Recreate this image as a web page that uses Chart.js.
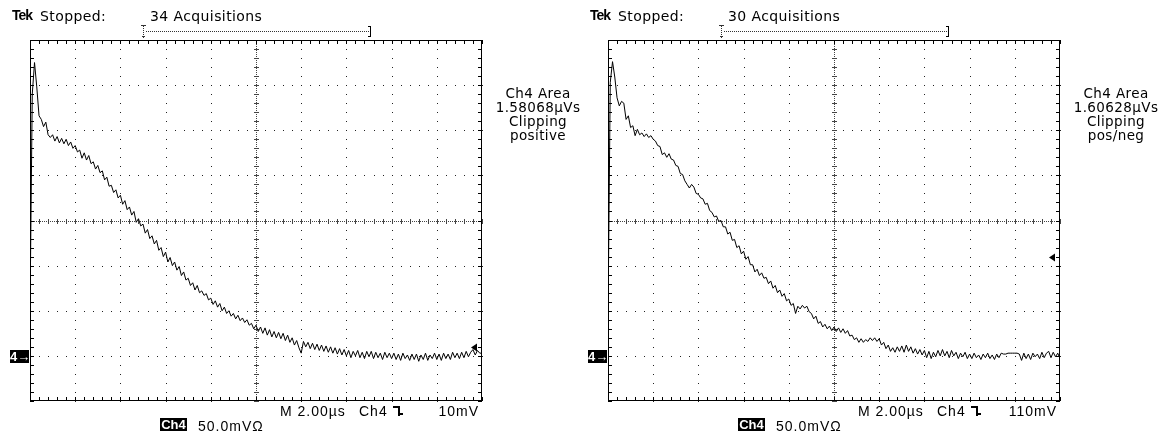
<!DOCTYPE html>
<html>
<head>
<meta charset="utf-8">
<script src="https://cdn.jsdelivr.net/npm/chart.js@4.4.1/dist/chart.umd.min.js"></script>
<style>
html, body { margin: 0; padding: 0; background: #fff; }
#wrap { position: relative; width: 1168px; height: 432px; overflow: hidden; color: #000; }
canvas { position: absolute; top: 0; }
.t { position: absolute; white-space: nowrap; line-height: 13px; font: 14px "DejaVu Sans", sans-serif; letter-spacing: 0.4px; }
.lib { font-family: "Liberation Sans", Arial, sans-serif; letter-spacing: 1px; }
.info { text-align: center; width: 130px; line-height: 14px; font-size: 13.5px; letter-spacing: 0.4px; }
.inv { background: #000; color: #fff; font: bold 13px "Liberation Sans", Arial, sans-serif; line-height: 13px; text-align: center; letter-spacing: 0; }
.tek { font-weight: bold; letter-spacing: -1px; font-family: "Liberation Sans", Arial, sans-serif; font-size: 14px; }
.edge { position: absolute; border-color: #000; border-style: solid; border-width: 0; }
</style>
</head>
<body>
<div id="wrap">
  <canvas id="scopeA" width="584" height="432" style="left:0"></canvas>
  <canvas id="scopeB" width="584" height="432" style="left:578px"></canvas>
</div>
<script>
// ─── SCOPE DATA ──────────────────────────────────────────────
const SAMPLE_US = 0.1;           // record spacing, µs
const TIME_SPAN = [0, 20];       // 10 div x 2.00 µs
const VOLT_SPAN = [-50, 350];    // 8 div x 50.0 mV, ground marker at 0
const acquisitions = [34, 30];
const areaReadings = ['1.58068µVs', '1.60628µVs'];
const clipModes    = ['positive', 'pos/neg'];
const triggerText  = ['10mV', '110mV'];
const triggerMv    = [10, 110];

// Ch4 in mV, one sample every 0.1 µs (one row per µs)
const traceA = [
    50, 290, 325, 298, 266, 262, 254, 259, 245, 242,
    245, 238, 243, 236, 241, 235, 240, 233, 237, 230,
    233, 226, 228, 219, 225, 217, 222, 213, 215, 207,
    211, 203, 205, 195, 198, 188, 189, 181, 184, 175,
    178, 168, 172, 162, 165, 156, 160, 148, 152, 144,
    146, 136, 140, 130, 133, 124, 128, 117, 120, 110,
    115, 104, 109, 100, 104, 95, 99, 89, 93, 84,
    86, 78, 81, 73, 78, 70, 72, 67, 69, 62,
    64, 57, 61, 54, 58, 50, 54, 47, 50, 44,
    47, 41, 45, 39, 42, 37, 40, 34, 36, 30,
    34, 27, 32, 25, 31, 23, 29, 21, 27, 20,
    26, 19, 25, 17, 23, 15, 20, 12, 17, 9,
    3, 16, 10, 15, 8, 14, 7, 13, 6, 12,
    5, 11, 4, 10, 3, 9, 2, 8, 1, 7,
    0, 6, -2, 5, 0, 6, -2, 4, -3, 5,
    -1, 5, -3, 4, -2, 3, -4, 4, -2, 3,
    -3, 3, -4, 2, -5, 3, -3, 1, -5, 2,
    -4, 2, -6, 1, -4, 3, -5, 1, -3, 3,
    -4, 2, -5, 3, -3, 2, -4, 4, -2, 3,
    -3, 4, -2, 5, -1, 4, 7, 1, 6, 3,
    3
];
const traceB = [
    40, 303, 326, 309, 286, 277, 282, 280, 262, 266,
    253, 255, 244, 251, 245, 247, 243, 246, 242, 244,
    240, 238, 233, 232, 223, 225, 220, 224, 218, 217,
    211, 210, 202, 201, 194, 190, 186, 190, 187, 180,
    179, 175, 174, 168, 169, 161, 159, 154, 155, 149,
    150, 143, 143, 135, 137, 128, 129, 120, 122, 113,
    116, 107, 110, 101, 101, 93, 96, 89, 92, 86,
    87, 80, 83, 75, 78, 70, 73, 66, 69, 61,
    63, 56, 58, 47, 55, 52, 56, 53, 55, 49,
    47, 41, 44, 36, 38, 32, 35, 30, 33, 28,
    32, 27, 31, 26, 30, 25, 28, 22, 23, 18,
    20, 15, 19, 15, 18, 16, 20, 17, 20, 16,
    19, 12, 15, 8, 12, 5, 9, 4, 10, 5,
    11, 4, 12, 5, 10, 3, 8, 2, 7, 1,
    6, -2, 5, -3, 4, -1, 6, 0, 7, 0,
    5, -2, 6, 0, 4, -3, 3, -1, 4, -3,
    2, -3, 3, -2, 1, -4, 2, -2, 3, -3,
    1, -4, 2, -2, 3, 2, 2, 3, 3, 3,
    3, 3, 2, -5, 3, -3, 2, -4, 3, -1,
    2, -3, 4, -2, 3, 5, -2, 4, -1, 3,
    -3
];
const traces = [traceA, traceB];

// ─── GRATICULE PLUGIN ────────────────────────────────────────
const graticule = {
    id: 'graticule',
    beforeDatasetsDraw(chart) {
        const { ctx, chartArea: a, scales: { x, y } } = chart;
        const px = v => Math.round(x.getPixelForValue(v));
        const py = v => Math.round(y.getPixelForValue(v));
        const xMinor = [], yMinor = [];
        for (let k = 0; k <= 50; k++) xMinor.push(px(TIME_SPAN[0] + k * 0.4));
        for (let k = 0; k <= 40; k++) yMinor.push(py(VOLT_SPAN[0] + k * 10));
        const L = Math.round(a.left), R = Math.round(a.right) - 1;
        const T = Math.round(a.top), B = Math.round(a.bottom) - 1;

        ctx.save();
        ctx.fillStyle = '#222';
        // dotted division lines
        for (let d = 1; d < 10; d++) {
            if (d === 5) continue;
            const X = px(d * 2);
            yMinor.forEach(Y => ctx.fillRect(X, Y, 1, 1));
        }
        for (let d = 1; d < 8; d++) {
            if (d === 4) continue;
            const Y = py(VOLT_SPAN[0] + d * 50);
            xMinor.forEach(X => ctx.fillRect(X, Y, 1, 1));
        }
        // centre crosshair with minor ticks
        ctx.fillStyle = '#444';
        const cx = px(10), cy = py(150);
        for (let Y = T; Y < B; Y += 2) ctx.fillRect(cx, Y, 1, 1);
        for (let X = L; X < R; X += 2) ctx.fillRect(X, cy, 1, 1);
        yMinor.forEach(Y => ctx.fillRect(cx - 2, Y, 5, 1));
        xMinor.forEach(X => ctx.fillRect(X, cy - 2, 1, 5));

        // frame with inner ticks
        ctx.fillStyle = '#000';
        ctx.fillRect(L, T, R - L + 1, 1);
        ctx.fillRect(L, B, R - L + 1, 1);
        ctx.fillRect(L, T, 1, B - T + 1);
        ctx.fillRect(R, T, 1, B - T + 1);
        xMinor.forEach(X => { ctx.fillRect(X, T, 1, 4); ctx.fillRect(X, B - 3, 1, 4); });
        yMinor.forEach(Y => { ctx.fillRect(L, Y, 4, 1); ctx.fillRect(R - 3, Y, 4, 1); });
        ctx.restore();
    },
    afterDatasetsDraw(chart, args, opts) {
        const { ctx, chartArea: a, scales: { x, y } } = chart;
        const R = Math.round(a.right) - 1;
        ctx.save();
        ctx.fillStyle = '#000';
        // trigger level arrow
        const ty = Math.round(y.getPixelForValue(opts.trigger)) + 0.5;
        ctx.beginPath();
        ctx.moveTo(R - 10, ty);
        ctx.lineTo(R - 4, ty - 4);
        ctx.lineTo(R - 4, ty + 4);
        ctx.closePath();
        ctx.fill();

        // record view bracket above the screen
        const X1 = Math.round(x.getPixelForValue(5)), X2 = Math.round(x.getPixelForValue(15));
        ctx.fillStyle = '#333';
        for (let X = X1 + 3; X < X2; X += 2) ctx.fillRect(X, 31, 1, 1);
        for (let Y = 26; Y < 36; Y += 2) ctx.fillRect(X1, Y, 1, 1);
        ctx.fillRect(X1 - 2, 25, 5, 1);
        ctx.fillRect(X1 - 1, 36, 3, 1);
        ctx.fillRect(X1, 37, 1, 1);
        ctx.fillStyle = '#000';
        ctx.fillRect(X2 + 1, 26, 1, 11);
        ctx.fillRect(X2 - 1, 26, 2, 1);
        ctx.fillRect(X2 - 1, 36, 2, 1);
        ctx.restore();
    }
};

// ─── CHARTS ──────────────────────────────────────────────────
function makeScope(canvasId, i) {
    return new Chart(document.getElementById(canvasId), {
        type: 'line',
        data: {
            datasets: [{
                data: traces[i].map((v, k) => ({ x: k * SAMPLE_US, y: v })),
                borderColor: '#000',
                borderWidth: 1,
                pointRadius: 0,
                tension: 0,
                fill: false
            }]
        },
        options: {
            responsive: false,
            animation: false,
            events: [],
            layout: { padding: { left: 30, right: 102, top: 40, bottom: 31 } },
            plugins: {
                legend: { display: false },
                tooltip: { enabled: false },
                graticule: { trigger: triggerMv[i] }
            },
            scales: {
                x: { type: 'linear', min: TIME_SPAN[0], max: TIME_SPAN[1], display: false },
                y: { type: 'linear', min: VOLT_SPAN[0], max: VOLT_SPAN[1], display: false }
            }
        },
        plugins: [graticule]
    });
}

// ─── TEXT ────────────────────────────────────────────────────
const wrap = document.getElementById('wrap');
function label(cls, left, top, html, extra) {
    const d = document.createElement('div');
    d.className = 't ' + cls;
    d.style.left = left + 'px';
    d.style.top = top + 'px';
    if (extra) Object.assign(d.style, extra);
    d.innerHTML = html;
    wrap.appendChild(d);
    return d;
}
function edgeSymbol(left) {
    const a = document.createElement('div');
    a.className = 'edge';
    Object.assign(a.style, { left: left + 'px', top: '406px', width: '5px', height: '8px', borderTopWidth: '2px', borderRightWidth: '2px' });
    const b = document.createElement('div');
    b.className = 'edge';
    Object.assign(b.style, { left: (left + 6) + 'px', top: '412px', width: '4px', height: '1px', borderBottomWidth: '2px' });
    wrap.appendChild(a);
    wrap.appendChild(b);
}
function panelText(i, o) {
    label('tek', 12 + o, 7, 'Tek');
    label('', 40 + o, 8, 'Stopped:');
    label('', 150 + o, 8, acquisitions[i] + ' Acquisitions');
    label('info', 538 + o - 65, 86, ['Ch4 Area', areaReadings[i], 'Clipping', clipModes[i]].join('<br>'));
    label('inv', 10 + o, 350, '4→', { width: '19px', height: '13px' });
    label('lib', 280 + o, 403, 'M 2.00µs');
    label('lib', 359 + o, 403, 'Ch4');
    edgeSymbol(393 + o);
    label('lib', 0, 403, triggerText[i], { left: 'auto', right: (1168 - 479 - o) + 'px' });
    label('inv', 160 + o, 418, 'Ch4', { width: '27px', height: '13px' });
    label('lib', 198 + o, 418, '50.0mVΩ');
}

makeScope('scopeA', 0);
makeScope('scopeB', 1);
panelText(0, 0);
panelText(1, 578);
</script>
</body>
</html>
